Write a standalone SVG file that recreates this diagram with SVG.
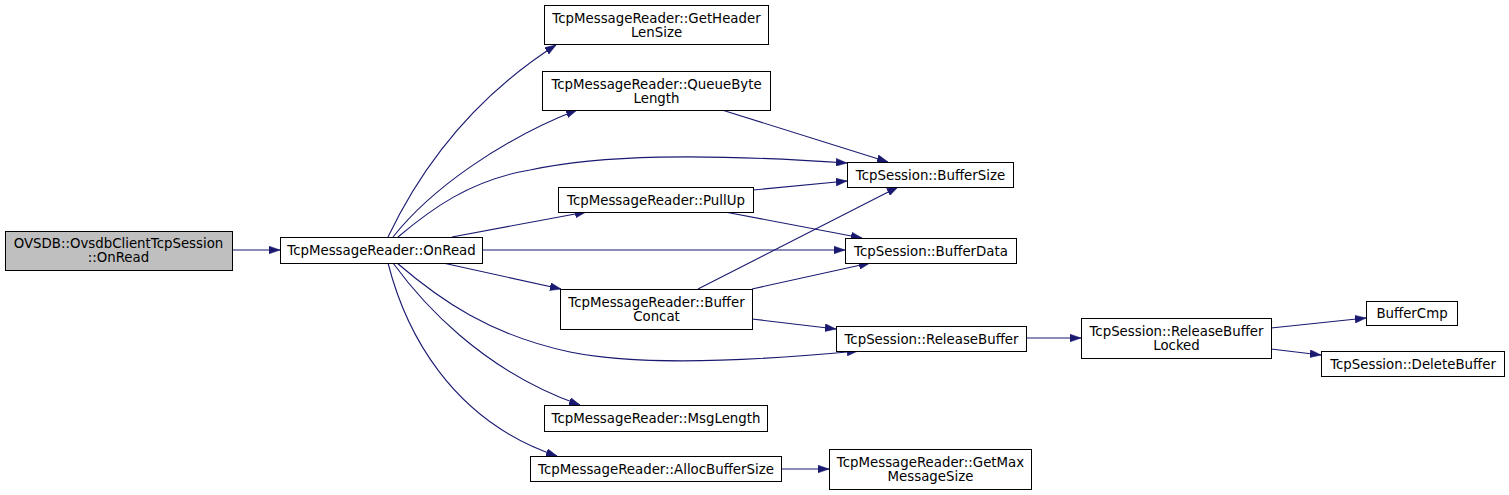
<svg xmlns="http://www.w3.org/2000/svg" width="1509" height="495" viewBox="0 0 1509 495">
<style>
.node rect{fill:#ffffff;stroke:#000000;stroke-width:1}
.node.root rect{fill:#bfbfbf}
.node text{font-family:"DejaVu Sans","Liberation Sans",sans-serif;font-size:13.33px;fill:#000000;text-anchor:middle}
.edges path{fill:none;stroke:#191970;stroke-width:1.1;marker-end:url(#arr)}
</style>
<defs>
<marker id="arr" viewBox="0 0 10 7" refX="10" refY="3.5" markerWidth="11" markerHeight="8" markerUnits="userSpaceOnUse" orient="auto">
<path d="M0,0 L10,3.5 L0,7 z" fill="#191970" stroke="#191970" stroke-width="0.5"/>
</marker>
</defs>
<rect x="0" y="0" width="1509" height="495" fill="#ffffff"/>
<g class="edges">
<path d="M232,250 L280,250"/>
<path d="M388,237 C420,170 470,100 556,45"/>
<path d="M393,237 C430,190 500,140 577,110"/>
<path d="M398,237 C430,210 470,180 530,170 C600,155 700,153 847,163"/>
<path d="M452,237 L586,212"/>
<path d="M482,250 L845,250"/>
<path d="M443,263 L561,289"/>
<path d="M397,263 C440,300 490,335 570,352 C620,362 700,366 858,351"/>
<path d="M393,263 C420,300 480,370 580,405"/>
<path d="M388,263 C405,330 450,420 557,456"/>
<path d="M722,110 L888,162"/>
<path d="M753,190 L847,181"/>
<path d="M725,212 L862,238"/>
<path d="M698,289 L898,187"/>
<path d="M752,289 L870,263"/>
<path d="M752,319 L836,329"/>
<path d="M1026,338 L1081,338"/>
<path d="M1271,328 L1366,318"/>
<path d="M1271,349 L1321,355"/>
<path d="M781,469 L829,469"/>
</g>
<g id="n0" class="node root"><rect x="5.5" y="231.5" width="227" height="39"/><text x="118.5" y="248">OVSDB::OvsdbClientTcpSession</text><text x="118.5" y="262">::OnRead</text></g>
<g id="n1" class="node"><rect x="280.5" y="237.5" width="202" height="26"/><text x="381.5" y="255">TcpMessageReader::OnRead</text></g>
<g id="n2" class="node"><rect x="544.5" y="5.5" width="224" height="39"/><text x="656.5" y="22.5">TcpMessageReader::GetHeader</text><text x="656.5" y="36.5">LenSize</text></g>
<g id="n3" class="node"><rect x="542.5" y="71.5" width="228" height="39"/><text x="656.5" y="88.5">TcpMessageReader::QueueByte</text><text x="656.5" y="102.5">Length</text></g>
<g id="n4" class="node"><rect x="847.5" y="162.5" width="166" height="25"/><text x="930.5" y="179.5">TcpSession::BufferSize</text></g>
<g id="n5" class="node"><rect x="558.5" y="187.5" width="195" height="25"/><text x="656" y="204.5">TcpMessageReader::PullUp</text></g>
<g id="n6" class="node"><rect x="845.5" y="238.5" width="171" height="25"/><text x="931" y="255.5">TcpSession::BufferData</text></g>
<g id="n7" class="node"><rect x="560.5" y="289.5" width="192" height="40"/><text x="656.5" y="307">TcpMessageReader::Buffer</text><text x="656.5" y="321">Concat</text></g>
<g id="n8" class="node"><rect x="836.5" y="326.5" width="190" height="25"/><text x="931.5" y="343.5">TcpSession::ReleaseBuffer</text></g>
<g id="n9" class="node"><rect x="1081.5" y="318.5" width="190" height="40"/><text x="1176.5" y="336">TcpSession::ReleaseBuffer</text><text x="1176.5" y="350">Locked</text></g>
<g id="n10" class="node"><rect x="1366.5" y="301.5" width="91" height="24"/><text x="1412" y="318">BufferCmp</text></g>
<g id="n11" class="node"><rect x="1321.5" y="351.5" width="183" height="25"/><text x="1413" y="368.5">TcpSession::DeleteBuffer</text></g>
<g id="n12" class="node"><rect x="544.5" y="405.5" width="223" height="26"/><text x="656" y="423">TcpMessageReader::MsgLength</text></g>
<g id="n13" class="node"><rect x="530.5" y="456.5" width="251" height="25"/><text x="656" y="473.5">TcpMessageReader::AllocBufferSize</text></g>
<g id="n14" class="node"><rect x="829.5" y="449.5" width="202" height="40"/><text x="930.5" y="467">TcpMessageReader::GetMax</text><text x="930.5" y="481">MessageSize</text></g>
</svg>
